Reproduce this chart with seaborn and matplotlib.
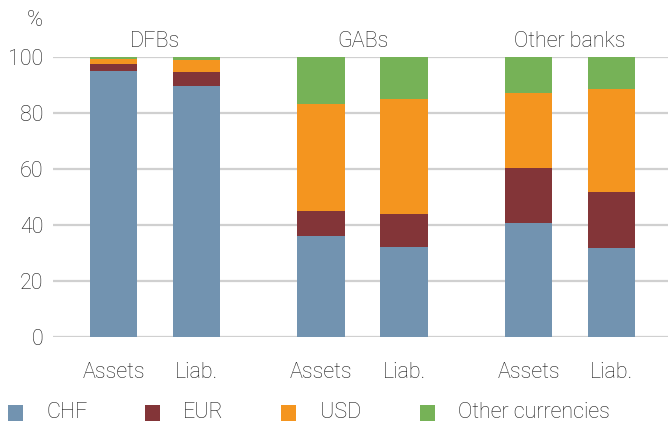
import numpy as np
import pandas as pd
import seaborn as sns
import matplotlib
matplotlib.use("Agg")
import matplotlib.pyplot as plt
from matplotlib.patches import Rectangle

# ---- data ----
groups = ["DFBs", "GABs", "Other banks"]
bar_labels = ["Assets", "Liab.", "Assets", "Liab.", "Assets", "Liab."]
positions = [0, 1, 2.5, 3.5, 5, 6]
currencies = ["CHF", "EUR", "USD", "Other currencies"]
chf = [95.0, 89.6, 36.1, 32.1, 40.7, 31.8]
eur = [2.5, 5.0, 8.9, 11.8, 19.6, 20.0]
usd = [1.8, 4.3, 38.2, 41.0, 26.8, 36.8]
other = [0.7, 1.1, 16.8, 15.1, 12.9, 11.4]
colors = ["#7293b0", "#833538", "#f4951f", "#76b257"]

sns.set_theme(style="white")
plt.rcParams['font.family'] = ['Roboto', 'DejaVu Sans']
FS = 15.5
TXT = "#1a1a1a"

fig = plt.figure(figsize=(6.68, 4.25), dpi=100)
W, H = 668, 425
ax = fig.add_axes([53 / W, (H - 337) / H, (668 - 53) / W, 280 / H])

series = [chf, eur, usd, other]
cum = np.cumsum(np.array(series), axis=0)
df = pd.DataFrame({"pos": positions})
# draw cumulative totals from the top layer down
for i in range(len(series) - 1, -1, -1):
    df["val"] = cum[i]
    sns.barplot(data=df, x="pos", y="val", native_scale=True, color=colors[i],
                saturation=1, width=0.57, ax=ax, errorbar=None, zorder=3,
                linewidth=0, edgecolor="none")

ax.set_xlim(-0.73, 6.68)
ax.set_ylim(0, 100)
ax.set_yticks([0, 20, 40, 60, 80, 100])
ax.set_xticks(positions)
ax.set_xticklabels(bar_labels)
ax.set_xlabel("")
ax.set_ylabel("")
ax.grid(axis="y", color="#d0d0d0", linewidth=1.6, zorder=0)
ax.grid(axis="x", visible=False)
for s in ax.spines.values():
    s.set_visible(False)
ax.tick_params(axis="y", length=0, pad=7, labelsize=FS, labelcolor=TXT)
ax.tick_params(axis="x", length=0, pad=18, labelsize=FS, labelcolor=TXT)
for lbl in ax.get_yticklabels() + ax.get_xticklabels():
    lbl.set_fontweight("light")

# group titles
centers = [0.5, 3.0, 5.5]
for g, c in zip(groups, centers):
    ax.text(c, 105.5, g, ha="center", va="center", fontsize=FS, color=TXT,
            fontweight="light", clip_on=False)

fig.text(43 / W, 1 - 20 / H, "%", ha="right", va="center", fontsize=FS,
         color=TXT, fontweight="light")

# legend
sq_x = [8, 145, 281, 420]
lab_x = [46, 183, 320, 458]
ly = 413
for c, lab, sx, tx in zip(colors, currencies, sq_x, lab_x):
    fig.add_artist(Rectangle((sx / W, 1 - (ly + 8) / H), 15 / W, 16 / H,
                             transform=fig.transFigure, facecolor=c,
                             edgecolor="none"))
    fig.text(tx / W, 1 - ly / H, lab, ha="left", va="center", fontsize=FS,
             color=TXT, fontweight="light")

fig.savefig("out.png", dpi=100)
